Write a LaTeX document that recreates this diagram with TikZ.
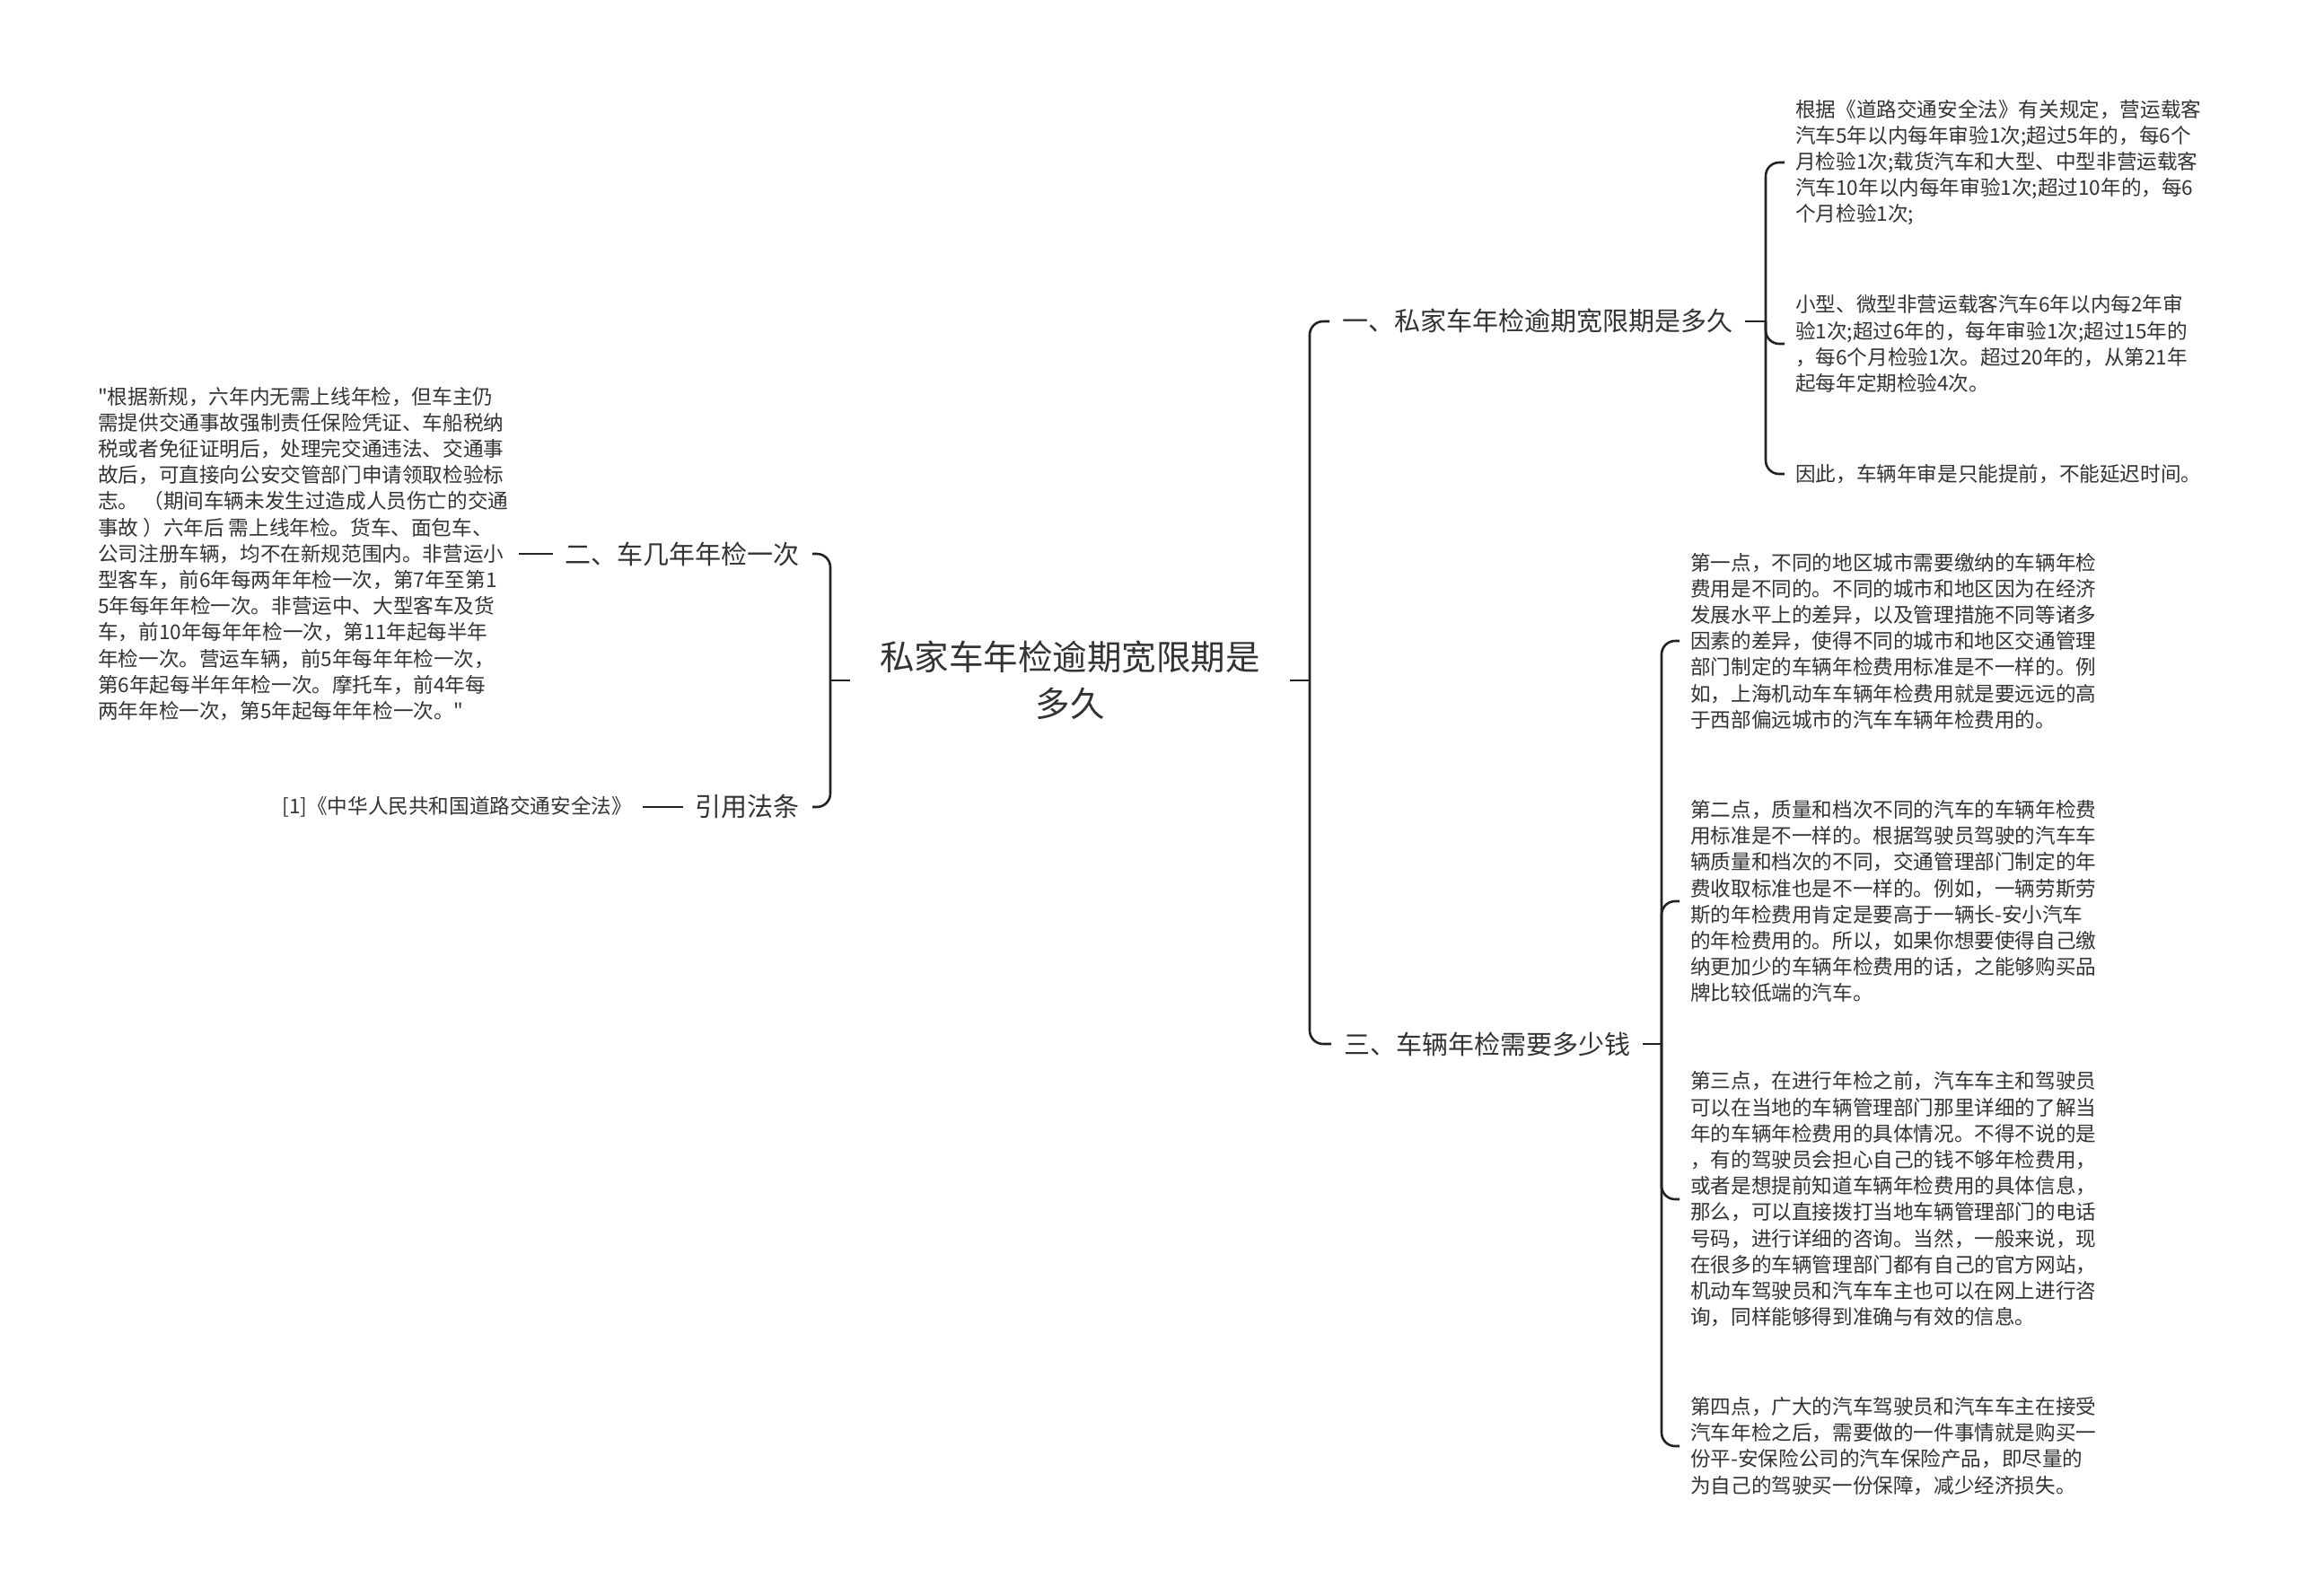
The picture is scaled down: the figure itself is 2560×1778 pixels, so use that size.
\documentclass[tikz,border=0pt]{standalone}
\usepackage{fontspec}
\setmainfont{Noto Sans CJK SC}[Ligatures=TeXOff]
\usepackage{xcolor}
\definecolor{inkgray}{HTML}{333333}
\definecolor{linkgray}{HTML}{222222}

\begin{document}
\begin{tikzpicture}[x=1pt, y=-1pt,
        link/.style={draw=linkgray, line width=2.6pt, rounded corners=15pt},
        rootnode/.style={font=\fontsize{38.5}{52}\selectfont, text=inkgray, align=center, inner xsep=33pt, inner ysep=0pt},
        midnode/.style={font=\fontsize{29}{36}\selectfont, text=inkgray, inner xsep=14pt, inner ysep=0pt},
        leafnode/.style={font=\fontsize{22.6}{29.2}\selectfont, text=inkgray, align=left, inner xsep=12pt, inner ysep=0pt}]
        % Canvas
        \fill[white] (0,0) rectangle (2560,1778);
        \useasboundingbox (0,0) rectangle (2560,1778);

        % Root
        \node[rootnode] (root) at (1192,758) {私家车年检逾期宽限期是\\多久};

        % Right main branch
        \coordinate (forkR) at (1459,758);
        \node[midnode, anchor=west] (sec1) at (1481,358) {一、私家车年检逾期宽限期是多久};
        \node[midnode, anchor=west] (sec3) at (1483,1163) {三、车辆年检需要多少钱};
        \draw[link] (root.east) -- (forkR);
        \draw[link] (forkR) |- (sec1.west);
        \draw[link] (forkR) |- (sec3.west);

        % Section 1 leaves
        \coordinate (fork1) at (1967,358);
        \node[leafnode, anchor=west] (rule) at (1988,181) {根据《道路交通安全法》有关规定，营运载客\\
            汽车5年以内每年审验1次;超过5年的，每6个\\
            月检验1次;载货汽车和大型、中型非营运载客\\
            汽车10年以内每年审验1次;超过10年的，每6\\
            个月检验1次;};
        \node[leafnode, anchor=west] (small) at (1988,383) {小型、微型非营运载客汽车6年以内每2年审\\
            验1次;超过6年的，每年审验1次;超过15年的\\
            ，每6个月检验1次。超过20年的，从第21年\\
            起每年定期检验4次。};
        \node[leafnode, anchor=west] (early) at (1988,528) {因此，车辆年审是只能提前，不能延迟时间。};
        \draw[link] (sec1.east) -- (fork1);
        \foreach \leaf in {rule,small,early}
            \draw[link] (fork1) |- (\leaf.west);

        % Section 3 leaves
        \coordinate (fork3) at (1851,1163);
        \node[leafnode, anchor=west] (cost1) at (1871,714) {第一点，不同的地区城市需要缴纳的车辆年检\\
            费用是不同的。不同的城市和地区因为在经济\\
            发展水平上的差异，以及管理措施不同等诸多\\
            因素的差异，使得不同的城市和地区交通管理\\
            部门制定的车辆年检费用标准是不一样的。例\\
            如，上海机动车车辆年检费用就是要远远的高\\
            于西部偏远城市的汽车车辆年检费用的。};
        \node[leafnode, anchor=west] (cost2) at (1871,1004) {第二点，质量和档次不同的汽车的车辆年检费\\
            用标准是不一样的。根据驾驶员驾驶的汽车车\\
            辆质量和档次的不同，交通管理部门制定的年\\
            费收取标准也是不一样的。例如，一辆劳斯劳\\
            斯的年检费用肯定是要高于一辆长-安小汽车\\
            的年检费用的。所以，如果你想要使得自己缴\\
            纳更加少的车辆年检费用的话，之能够购买品\\
            牌比较低端的汽车。};
        \node[leafnode, anchor=west] (cost3) at (1871,1336) {第三点，在进行年检之前，汽车车主和驾驶员\\
            可以在当地的车辆管理部门那里详细的了解当\\
            年的车辆年检费用的具体情况。不得不说的是\\
            ，有的驾驶员会担心自己的钱不够年检费用，\\
            或者是想提前知道车辆年检费用的具体信息，\\
            那么，可以直接拨打当地车辆管理部门的电话\\
            号码，进行详细的咨询。当然，一般来说，现\\
            在很多的车辆管理部门都有自己的官方网站，\\
            机动车驾驶员和汽车车主也可以在网上进行咨\\
            询，同样能够得到准确与有效的信息。};
        \node[leafnode, anchor=west] (cost4) at (1871,1611) {第四点，广大的汽车驾驶员和汽车车主在接受\\
            汽车年检之后，需要做的一件事情就是购买一\\
            份平-安保险公司的汽车保险产品，即尽量的\\
            为自己的驾驶买一份保障，减少经济损失。};
        \draw[link] (sec3.east) -- (fork3);
        \foreach \leaf in {cost1,cost2,cost3,cost4}
            \draw[link] (fork3) |- (\leaf.west);

        % Left main branch
        \coordinate (forkL) at (925,758);
        \node[midnode, anchor=east] (sec2) at (905,617) {二、车几年年检一次};
        \node[midnode, anchor=east] (sec4) at (905,899) {引用法条};
        \draw[link] (root.west) -- (forkL);
        \draw[link] (forkL) |- (sec2.east);
        \draw[link] (forkL) |- (sec4.east);

        % Left leaves
        \node[leafnode, anchor=west] (newrule) at (97,617) {"根据新规，六年内无需上线年检，但车主仍\\
            需提供交通事故强制责任保险凭证、车船税纳\\
            税或者免征证明后，处理完交通违法、交通事\\
            故后，可直接向公安交管部门申请领取检验标\\
            志。 （期间车辆未发生过造成人员伤亡的交通\\
            事故 ）六年后 需上线年检。货车、面包车、\\
            公司注册车辆，均不在新规范围内。非营运小\\
            型客车，前6年每两年年检一次，第7年至第1\\
            5年每年年检一次。非营运中、大型客车及货\\
            车，前10年每年年检一次，第11年起每半年\\
            年检一次。营运车辆，前5年每年年检一次，\\
            第6年起每半年年检一次。摩托车，前4年每\\
            两年年检一次，第5年起每年年检一次。"};
        \node[leafnode, anchor=east] (lawref) at (716,899) {[1]《中华人民共和国道路交通安全法》};
        \draw[link] (sec2.west) -- (newrule.east |- sec2.west);
        \draw[link] (sec4.west) -- (lawref.east);
    \end{tikzpicture}
\end{document}
